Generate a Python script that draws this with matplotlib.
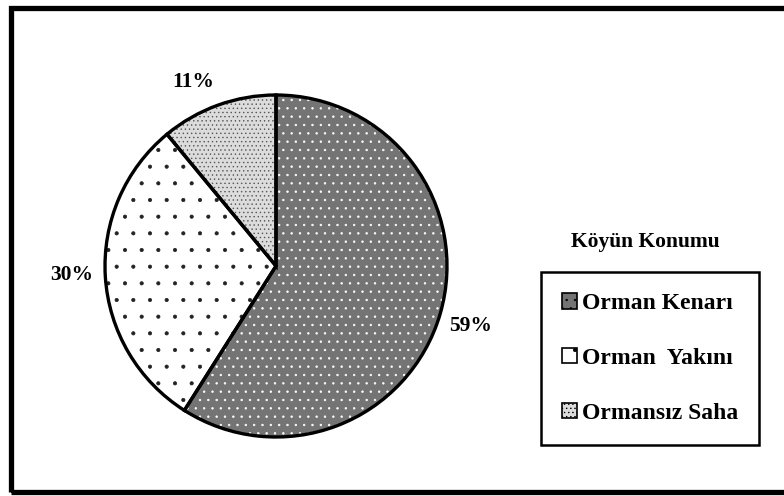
import matplotlib
matplotlib.use("Agg")
import matplotlib.pyplot as plt
from matplotlib.patches import Rectangle, Patch

categories = ["Orman Kenarı", "Orman  Yakını", "Ormansız Saha"]
values = [59, 30, 11]
pct_labels = ["59%", "30%", "11%"]
legend_title = "Köyün Konumu"

plt.rcParams['font.family'] = ['Liberation Serif', 'DejaVu Serif']
plt.rcParams['hatch.linewidth'] = 0.5

W, H = 784, 496
fig = plt.figure(figsize=(W / 100, H / 100), dpi=100)
# outer frame (right edge cut off by image border)
fig.patches.append(Rectangle((11 / W, 1 - 491.5 / H), 1.0, (491.5 - 7.5) / H,
                             transform=fig.transFigure, fill=False,
                             edgecolor='black', linewidth=3.8, zorder=0,
                             clip_on=False))

cx, cy, r = 276, 266, 171
ax = fig.add_axes([(cx - r) / W, (H - cy - r) / H, 2 * r / W, 2 * r / H])
ax.set_aspect('equal')
ax.axis('off')

faces = ['#747474', 'white', '#dcdcdc']
hatches = ['..', '.', '....']
hcolors = ['white', '#222222', '#555555']

wedges, _ = ax.pie(values, startangle=90, counterclock=False,
                   colors=faces, wedgeprops=dict(edgecolor='none', linewidth=0),
                   radius=1.0)
for w, h, hc in zip(wedges, hatches, hcolors):
    w.set_hatch(h)
    w.set_edgecolor(hc)
    w.set_linewidth(0)
    w.set_clip_on(False)
ow, _ = ax.pie(values, startangle=90, counterclock=False,
               wedgeprops=dict(edgecolor='black', linewidth=2.4, fill=False))
for w in ow:
    w.set_clip_on(False)
ax.set_xlim(-1.0, 1.0)
ax.set_ylim(-1.0, 1.0)

# percentage labels
fs = 15.5
fig.text(471 / W, 1 - 326 / H, pct_labels[0], fontsize=fs, fontweight='bold', ha='center', va='center')
fig.text(72 / W, 1 - 275 / H, pct_labels[1], fontsize=fs, fontweight='bold', ha='center', va='center')
fig.text(193 / W, 1 - 82 / H, pct_labels[2], fontsize=fs, fontweight='bold', ha='center', va='center')

# legend title
fig.text(645 / W, 1 - 242 / H, legend_title, fontsize=15.5, fontweight='bold', ha='center', va='center')

handles = [Patch(facecolor=faces[i], edgecolor='black', hatch=hatches[i], linewidth=1.2)
           for i in range(3)]
leg = fig.legend(handles, categories, loc='upper left',
                 bbox_to_anchor=(541 / W, 1 - 272 / H),
                 prop=dict(family='Liberation Serif', weight='bold', size=17),
                 handlelength=0.65, handleheight=0.65, handletextpad=0.2,
                 labelspacing=1.43, borderpad=0.88, borderaxespad=0,
                 fancybox=False, edgecolor='black', framealpha=1)
leg.get_frame().set_linewidth(1.8)

fig.savefig("out.png", dpi=100)
